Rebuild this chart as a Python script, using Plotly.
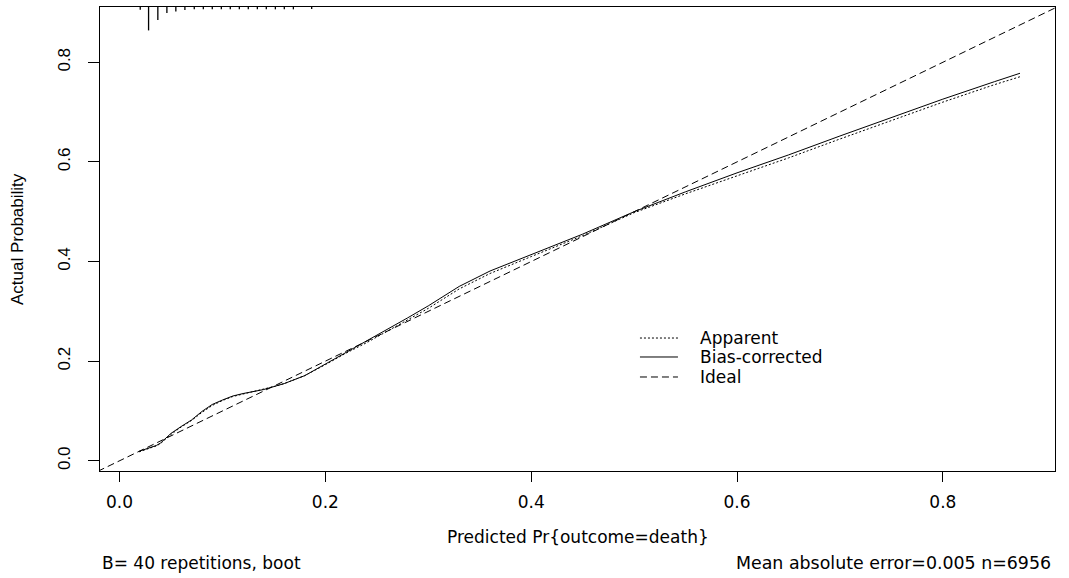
import plotly.graph_objects as go

# ---------------- data ----------------
pred_grid = [0.019, 0.03, 0.036, 0.04, 0.05, 0.06, 0.07, 0.08, 0.09, 0.10, 0.11, 0.12, 0.13,
             0.14, 0.15, 0.16, 0.18, 0.20, 0.22, 0.24, 0.26, 0.28, 0.30, 0.33, 0.36, 0.40,
             0.45, 0.50, 0.55, 0.60, 0.65, 0.70, 0.75, 0.80, 0.85, 0.875]
bias_corrected = [0.019, 0.026, 0.031, 0.036, 0.055, 0.069, 0.082, 0.099, 0.113, 0.122, 0.130,
                  0.135, 0.139, 0.143, 0.149, 0.155, 0.171, 0.194, 0.218, 0.240, 0.264, 0.287,
                  0.311, 0.350, 0.381, 0.414, 0.455, 0.500, 0.540, 0.578, 0.614, 0.652, 0.689,
                  0.726, 0.761, 0.778]
apparent = [0.018, 0.026, 0.030, 0.035, 0.053, 0.068, 0.081, 0.097, 0.111, 0.121, 0.129,
            0.134, 0.139, 0.143, 0.149, 0.155, 0.171, 0.193, 0.216, 0.237, 0.260, 0.283,
            0.306, 0.345, 0.376, 0.410, 0.452, 0.498, 0.536, 0.572, 0.608, 0.646, 0.683,
            0.720, 0.755, 0.771]
ideal = [-0.05, 1.0]

rug_x = [0.0201, 0.0282, 0.0372, 0.0460, 0.0547, 0.0635, 0.0726, 0.0814, 0.0901, 0.0989,
         0.1076, 0.1164, 0.1251, 0.1339, 0.1426, 0.1514, 0.1601, 0.1689, 0.1867]
rug_freq = [12, 100, 56, 26, 19, 13, 10, 10, 10, 10, 10, 10, 10, 10, 10, 10, 10, 10, 9]

xticks = [0.0, 0.2, 0.4, 0.6, 0.8]
xtick_labels = ["0.0", "0.2", "0.4", "0.6", "0.8"]
yticks = [0.0, 0.2, 0.4, 0.6, 0.8]
ytick_labels = ["0.0", "0.2", "0.4", "0.6", "0.8"]

legend_labels = ["Apparent", "Bias-corrected", "Ideal"]
x_title = "Predicted Pr{outcome=death}"
y_title = "Actual Probability"
note_left = "B= 40 repetitions, boot"
note_right = "Mean absolute error=0.005 n=6956"

# ---------------- figure ----------------
X_RANGE = [-0.019, 0.909]
Y_RANGE = [-0.0205, 0.911]
HFONT = "DejaVu Sans"
VFONT = "Liberation Sans, Arial"

fig = go.Figure()

fig.add_trace(go.Scatter(x=ideal, y=ideal, mode="lines",
                         line=dict(color="black", width=1, dash="7px,4px"),
                         showlegend=False, hoverinfo="skip"))
fig.add_trace(go.Scatter(x=pred_grid, y=apparent, mode="lines",
                         line=dict(color="black", width=1, dash="2px,2px"),
                         showlegend=False))
fig.add_trace(go.Scatter(x=pred_grid, y=bias_corrected, mode="lines",
                         line=dict(color="black", width=1),
                         showlegend=False))

# rug / spike histogram hanging from the top of the plot
max_f = max(rug_freq)
rx, ry = [], []
for xv, f in zip(rug_x, rug_freq):
    rx += [xv, xv, None]
    ry += [Y_RANGE[1], Y_RANGE[1] - 0.047 * f / max_f, None]
fig.add_trace(go.Scatter(x=rx, y=ry, mode="lines",
                         line=dict(color="black", width=1.3),
                         showlegend=False, hoverinfo="skip"))

# manual R-style legend
leg_y = [0.2866, 0.2457, 0.2026]
leg_dash = ["2px,2px", "solid", "7px,4px"]
for lab, yy, d in zip(legend_labels, leg_y, leg_dash):
    fig.add_shape(type="line", xref="paper", yref="paper",
                  x0=0.5654, x1=0.6052, y0=yy, y1=yy,
                  line=dict(color="black", width=1, dash=d))
    fig.add_annotation(text=lab, xref="paper", yref="paper", x=0.6262, y=yy,
                       xanchor="left", yanchor="middle", showarrow=False,
                       font=dict(family=HFONT, size=17, color="black"))

fig.add_annotation(text=x_title, xref="paper", yref="paper", x=0.5, y=-0.142,
                   xanchor="center", yanchor="middle", showarrow=False,
                   font=dict(family=HFONT, size=17, color="black"))
fig.add_annotation(text=y_title, xref="paper", yref="paper", x=-0.0869, y=0.5,
                   xanchor="center", yanchor="middle", showarrow=False, textangle=-90,
                   font=dict(family=VFONT, size=17, color="black"))
fig.add_annotation(text=note_left, xref="paper", yref="paper", x=0.0, y=-0.198,
                   xanchor="left", yanchor="middle", showarrow=False,
                   font=dict(family=HFONT, size=17, color="black"))
fig.add_annotation(text=note_right, xref="paper", yref="paper", x=0.998, y=-0.198,
                   xanchor="right", yanchor="middle", showarrow=False,
                   font=dict(family=HFONT, size=17.4, color="black"))

fig.update_layout(
    width=1069, height=578,
    margin=dict(l=100, r=14, t=7, b=107),
    paper_bgcolor="white", plot_bgcolor="white",
    showlegend=False,
    xaxis=dict(range=X_RANGE, tickvals=xticks, ticktext=xtick_labels,
               showgrid=False, zeroline=False, showline=True, mirror=True,
               linecolor="black", linewidth=1, ticks="outside", ticklen=10,
               tickcolor="black", tickwidth=1, ticklabelstandoff=6,
               tickfont=dict(family=HFONT, size=17, color="black")),
    yaxis=dict(range=Y_RANGE, tickvals=yticks, ticktext=ytick_labels,
               showgrid=False, zeroline=False, showline=True, mirror=True,
               linecolor="black", linewidth=1, ticks="outside", ticklen=11,
               tickcolor="black", tickwidth=1, tickangle=-90, ticklabelstandoff=11,
               tickfont=dict(family=VFONT, size=17, color="black")),
)

fig.write_html("out.html",
               config={"displayModeBar": False},
               post_script="document.body.style.margin='0px';document.body.style.overflow='hidden';")
